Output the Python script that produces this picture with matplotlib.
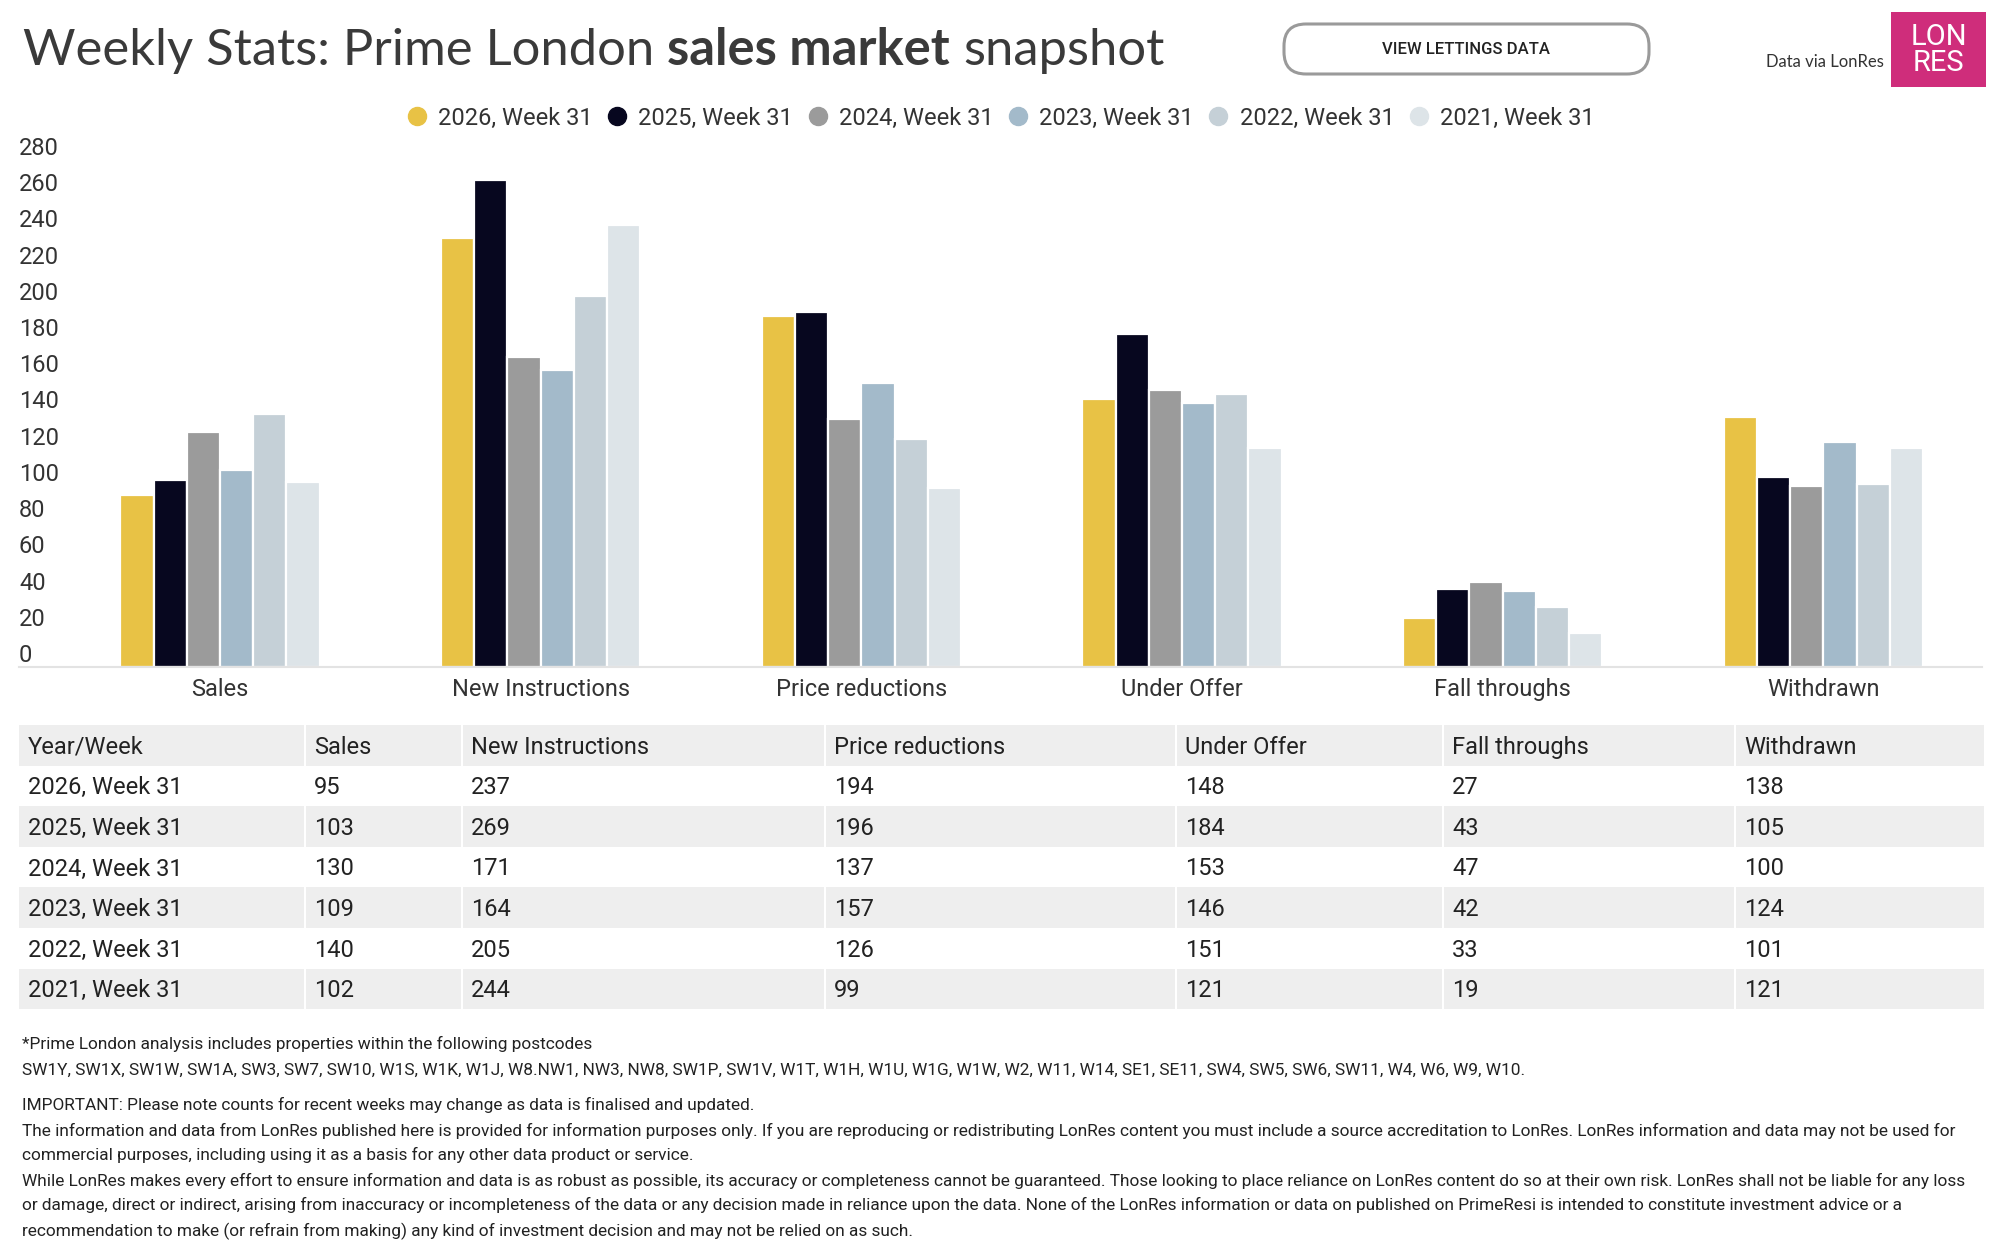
import matplotlib
matplotlib.use('Agg')
import matplotlib.pyplot as plt
from matplotlib.patches import Rectangle, FancyBboxPatch
from matplotlib.lines import Line2D
import numpy as np

# ---------------- data ----------------
categories = ['Sales', 'New Instructions', 'Price reductions', 'Under Offer', 'Fall throughs', 'Withdrawn']
series_names = ['2026, Week 31', '2025, Week 31', '2024, Week 31', '2023, Week 31', '2022, Week 31', '2021, Week 31']
v2026 = [95, 237, 194, 148, 27, 138]
v2025 = [103, 269, 196, 184, 43, 105]
v2024 = [130, 171, 137, 153, 47, 100]
v2023 = [109, 164, 157, 146, 42, 124]
v2022 = [140, 205, 126, 151, 33, 101]
v2021 = [102, 244, 99, 121, 19, 121]
series_values = [v2026, v2025, v2024, v2023, v2022, v2021]
series_colors = ['#E8C245', '#07071F', '#9B9B9B', '#A3BACA', '#C5D0D7', '#DDE4E8']
y_ticks = list(range(0, 281, 20))
table_first_header = 'Year/Week'

title_parts = [('Weekly Stats: Prime London ', 'normal'), ('sales market', 'bold'), (' snapshot', 'normal')]
button_label = 'VIEW LETTINGS DATA'
source_label = 'Data via LonRes'
logo_lines = ['LON', 'RES']
footnote_lines = [
    '*Prime London analysis includes properties within the following postcodes',
    'SW1Y, SW1X, SW1W, SW1A, SW3, SW7, SW10, W1S, W1K, W1J, W8.NW1, NW3, NW8, SW1P, SW1V, W1T, W1H, W1U, W1G, W1W, W2, W11, W14, SE1, SE11, SW4, SW5, SW6, SW11, W4, W6, W9, W10.',
    'IMPORTANT: Please note counts for recent weeks may change as data is finalised and updated.',
    'The information and data from LonRes published here is provided for information purposes only. If you are reproducing or redistributing LonRes content you must include a source accreditation to LonRes. LonRes information and data may not be used for',
    'commercial purposes, including using it as a basis for any other data product or service.',
    'While LonRes makes every effort to ensure information and data is as robust as possible, its accuracy or completeness cannot be guaranteed. Those looking to place reliance on LonRes content do so at their own risk. LonRes shall not be liable for any loss',
    'or damage, direct or indirect, arising from inaccuracy or incompleteness of the data or any decision made in reliance upon the data. None of the LonRes information or data on published on PrimeResi is intended to constitute investment advice or a',
    'recommendation to make (or refrain from making) any kind of investment decision and may not be relied on as such.',
]

# ---------------- figure ----------------
W, H = 2000, 1244
DPI = 100
fig = plt.figure(figsize=(W / DPI, H / DPI), dpi=DPI)
fig.patch.set_facecolor('white')
FONT = ['Roboto', 'DejaVu Sans']
TXT = '#333333'

# overlay axes in pixel coordinates
ov = fig.add_axes([0, 0, 1, 1], zorder=0)
ov.set_xlim(0, W)
ov.set_ylim(H, 0)
ov.axis('off')

# main chart axes
ax_left, ax_right, ax_top, ax_bottom = 19, 1982, 160, 667
first_center, band = 220, 320.67
ax = fig.add_axes([ax_left / W, 1 - ax_bottom / H, (ax_right - ax_left) / W, (ax_bottom - ax_top) / H], zorder=1)
ax.patch.set_alpha(0)

n = len(series_names)
pitch = 0.1036
x = np.arange(len(categories))
for j, (vals, col, name) in enumerate(zip(series_values, series_colors, series_names)):
    ax.bar(x + (j - (n - 1) / 2) * pitch, vals, width=pitch, color=col,
           edgecolor='white', linewidth=1.6, label=name, zorder=2)

ax.set_xlim((ax_left - first_center) / band, (ax_right - first_center) / band)
ax.set_ylim(0, 280)
for s in ['top', 'right', 'left']:
    ax.spines[s].set_visible(False)
ax.spines['bottom'].set_color('#e3e3e3')
ax.spines['bottom'].set_linewidth(1.5)

ax.set_yticks(y_ticks)
ax.set_yticklabels([str(t) for t in y_ticks], fontsize=17, family=FONT, color=TXT,
                   ha='left', va='bottom')
ax.tick_params(axis='y', length=0, pad=0)
ax.set_xticks(x)
ax.set_xticklabels(categories, fontsize=17, family=FONT, color=TXT)
ax.tick_params(axis='x', length=0, pad=8)

# legend
handles = [Line2D([0], [0], marker='o', linestyle='none', markersize=13,
                  markerfacecolor=c, markeredgecolor=c) for c in series_colors]
leg = fig.legend(handles, series_names, loc='center', ncol=n,
                 bbox_to_anchor=(1001 / W, 1 - 118 / H), frameon=False,
                 prop={'family': FONT, 'size': 17}, handlelength=0.8,
                 handletextpad=0.5, columnspacing=0.64, borderpad=0)
for t in leg.get_texts():
    t.set_color(TXT)

# title (mixed weights)
renderer = fig.canvas.get_renderer()

def text_width(s, **kw):
    t = ov.text(0, 0, s, **kw)
    w = t.get_window_extent(renderer).width
    t.remove()
    return w

tkw = dict(family=['Lato', 'DejaVu Sans'], fontsize=36.5, color='#3a3a3a', va='baseline', ha='left')
space_w = text_width('x x', weight='normal', **tkw) - text_width('xx', weight='normal', **tkw)
cx = 23
for part, wgt in title_parts:
    core = part.strip()
    if part.startswith(' '):
        cx += space_w
    ov.text(cx, 65, core, weight=wgt, **tkw)
    cx += text_width(core, weight=wgt, **tkw)
    if part.endswith(' '):
        cx += space_w

# button
ov.add_patch(FancyBboxPatch((1284, 24), 365, 50, boxstyle='round,pad=0,rounding_size=22',
                            fc='white', ec='#9a9a9a', lw=2.2))
ov.text(1466.5, 49, button_label, ha='center', va='center', family=FONT, fontsize=12,
        color='#222222', weight='medium')

# source and logo
ov.text(1884, 62, source_label, ha='right', va='center', family=['Lato', 'DejaVu Sans'],
        fontsize=12, color='#333333')
ov.add_patch(Rectangle((1891, 12), 95, 75, fc='#CF2D7B', ec='none'))
ov.text(1938.5, 37, logo_lines[0], ha='center', va='center', family=FONT, fontsize=21, color='white')
ov.text(1938.5, 63, logo_lines[1], ha='center', va='center', family=FONT, fontsize=21, color='white')

# table
col_edges = [19, 305, 462, 825, 1176, 1443, 1735, 1984]
row_top, row_h = 725, 40.6
header = [table_first_header] + categories
rows = [[name] + [str(v) for v in vals] for name, vals in zip(series_names, series_values)]
all_rows = [header] + rows
for ri, row in enumerate(all_rows):
    y0 = row_top + ri * row_h
    if ri % 2 == 0:
        ov.add_patch(Rectangle((col_edges[0], y0), col_edges[-1] - col_edges[0], row_h,
                               fc='#eeeeee', ec='none'))
    for ci, txt in enumerate(row):
        ov.text(col_edges[ci] + 9, y0 + row_h / 2 + 8.4, txt, ha='left', va='baseline',
                family=FONT, fontsize=17, color='#222222')
for xe in col_edges[1:-1]:
    ov.plot([xe, xe], [row_top, row_top + len(all_rows) * row_h], color='white', lw=1.5)

# footnotes
foot_y = [1044, 1070, 1105, 1131, 1155, 1181, 1205, 1231]
for yy, line in zip(foot_y, footnote_lines):
    ov.text(22, yy, line, ha='left', va='center', family=FONT, fontsize=12.4, color='#222222')

fig.savefig('out.png', dpi=DPI, facecolor='white')
